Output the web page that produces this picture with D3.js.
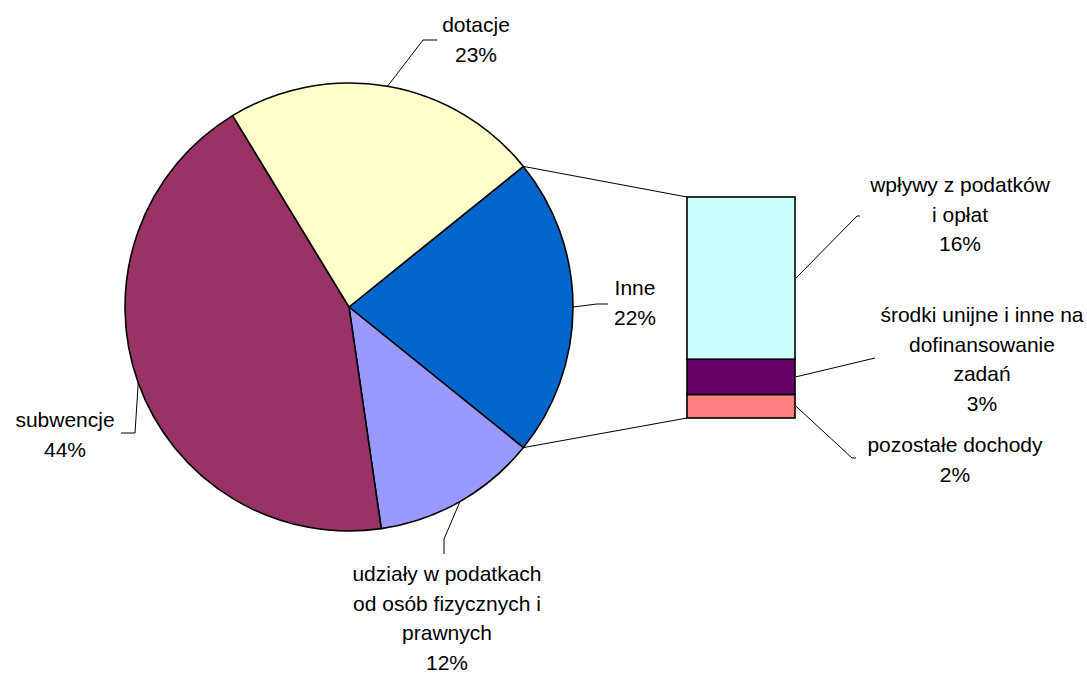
<!DOCTYPE html>
<html lang="pl">
	<head>
		<meta charset="utf-8">
		<title>Dochody</title>
		<script type="text/javascript" src="https://cdn.jsdelivr.net/npm/d3@7"></script>
		<style type="text/css">
			html, body {
				margin: 0;
				padding: 0;
				background: #ffffff;
			}
			.lbl {
				font-family: "Liberation Sans", Arial, sans-serif;
				font-size: 21px;
				fill: #000000;
			}
		</style>
	</head>
	<body>
		<script type="text/javascript">

			//Width and height
			let w = 1087;
			let h = 673;

			// main pie (percent of total), "Inne" is split into the bar
			let pieNames = ["Inne", "udziały w podatkach|od osób fizycznych i|prawnych", "subwencje", "dotacje"];
			let pieValues = [21.6, 11.9, 43.6, 22.9];
			let pieColors = ["#0066CC", "#9999FF", "#993366", "#FFFFCC"];

			// bar of "Inne", from bottom to top
			let barNames = ["pozostałe dochody", "środki unijne i inne na|dofinansowanie|zadań", "wpływy z podatków|i opłat"];
			let barValues = [2.3, 3.45, 15.85];
			let barColors = ["#FF8080", "#660066", "#CCFFFF"];

			let cx = 349, cy = 307, r = 224;
			let barX = 687, barW = 108, barTop = 197, barBottom = 418;
			let lineH = 29.5;

			//Create SVG element
			let svg = d3.select("body")
						.append("svg")
						.attr("width", w)
						.attr("height", h);

			let innePart = pieValues[0] / d3.sum(pieValues);
			let start = Math.PI / 2 - innePart * Math.PI;

			let pie = d3.pie()
						.sort(null)
						.startAngle(start)
						.endAngle(start + 2 * Math.PI);

			let arc = d3.arc()
						.innerRadius(0)
						.outerRadius(r);

			let slices = pie(pieValues);

			let pt = (a, rad) => [cx + rad * Math.sin(a), cy - rad * Math.cos(a)];

			// bar scale
			let yScale = d3.scaleLinear()
							.domain([0, d3.sum(barValues)])
							.range([barBottom, barTop]);

			let stacked = [];
			let acc = 0;
			barValues.forEach((v, i) => {
				stacked.push({ y0: acc, y1: acc + v, i: i });
				acc += v;
			});

			// connector lines from the "Inne" slice to the bar
			let a0 = pt(slices[0].startAngle, r);
			let a1 = pt(slices[0].endAngle, r);
			svg.append("line")
				.attr("x1", a0[0]).attr("y1", a0[1])
				.attr("x2", barX).attr("y2", yScale(d3.sum(barValues)))
				.attr("stroke", "#000").attr("stroke-width", 1);
			svg.append("line")
				.attr("x1", a1[0]).attr("y1", a1[1])
				.attr("x2", barX).attr("y2", yScale(0))
				.attr("stroke", "#000").attr("stroke-width", 1);

			svg.append("g")
				.attr("transform", "translate(" + cx + "," + cy + ")")
				.selectAll("path")
				.data(slices)
				.enter()
				.append("path")
				.attr("d", arc)
				.attr("fill", (d, i) => pieColors[i])
				.attr("stroke", "#000")
				.attr("stroke-width", 1.6)
				.attr("stroke-linejoin", "round");

			svg.selectAll("rect.seg")
				.data(stacked)
				.enter()
				.append("rect")
				.attr("class", "seg")
				.attr("x", barX)
				.attr("y", (d) => yScale(d.y1))
				.attr("width", barW)
				.attr("height", (d) => yScale(d.y0) - yScale(d.y1))
				.attr("fill", (d) => barColors[d.i])
				.attr("stroke", "#000")
				.attr("stroke-width", 1.6);

			let total = d3.sum(pieValues);
			let pct = (v) => Math.round(v / total * 100) + "%";

			// label layout: text centre, first baseline, leader elbow points
			let pieLabelPos = [
				{ x: 635, y: 295, path: [[597, 304], [608, 304]] },
				{ x: 447, y: 581, path: [[444, 539], [444, 554]] },
				{ x: 65, y: 427, path: [[135, 433], [121, 433]] },
				{ x: 476, y: 32, path: [[423, 40], [437, 40]] }
			];
			let barLabelPos = [
				{ x: 955, y: 452, path: [[852, 458], [856, 458]] },
				{ x: 982, y: 322, path: [[875, 358]] },
				{ x: 960, y: 192, path: [[857, 216], [860, 216]] }
			];

			function drawLabel(anchor, pos, name, value) {
				let pts = [anchor].concat(pos.path);
				svg.append("path")
					.attr("d", d3.line()(pts))
					.attr("fill", "none")
					.attr("stroke", "#000")
					.attr("stroke-width", 1);

				let lines = name.split("|").concat([pct(value)]);
				let t = svg.append("text")
					.attr("class", "lbl")
					.attr("text-anchor", "middle");
				lines.forEach((s, i) => {
					t.append("tspan")
						.attr("x", pos.x)
						.attr("y", pos.y + i * lineH)
						.text(s);
				});
			}

			slices.forEach((d, i) => {
				let mid = (d.startAngle + d.endAngle) / 2;
				drawLabel(pt(mid, r), pieLabelPos[i], pieNames[i], pieValues[i]);
			});

			stacked.forEach((d) => {
				let anchor = [barX + barW + 1, (yScale(d.y0) + yScale(d.y1)) / 2];
				drawLabel(anchor, barLabelPos[d.i], barNames[d.i], barValues[d.i]);
			});
		</script>
	</body>
</html>
